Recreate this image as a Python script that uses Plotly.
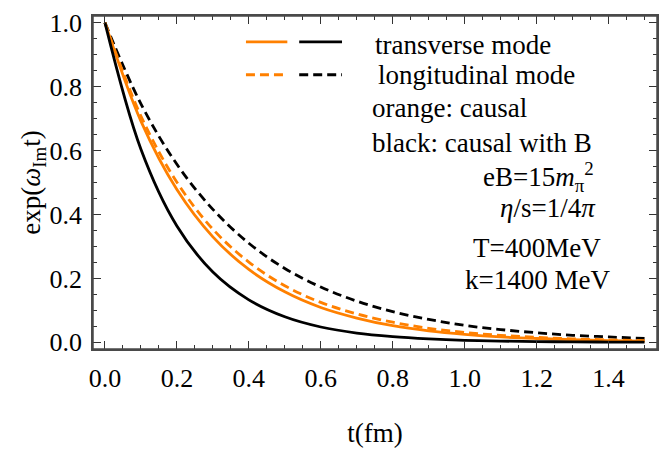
import plotly.graph_objects as go

# ---- data ----
t_fm = [0.0, 0.1, 0.2, 0.3, 0.4, 0.5, 0.6, 0.7, 0.8, 0.9, 1.0, 1.1, 1.2, 1.3, 1.4, 1.5]

orange_transverse = [1.000, 0.692, 0.478, 0.330, 0.228, 0.158, 0.109, 0.076, 0.052, 0.036,
                     0.025, 0.017, 0.0120, 0.0083, 0.0057, 0.0040]
orange_longitudinal = [1.000, 0.708, 0.501, 0.354, 0.251, 0.177, 0.125, 0.089, 0.063, 0.044,
                       0.031, 0.022, 0.0157, 0.0111, 0.0078, 0.0055]
black_transverse = [1.000, 0.604, 0.364, 0.220, 0.133, 0.080, 0.048, 0.029, 0.018, 0.011,
                    0.0064, 0.0039, 0.0023, 0.0014, 0.0009, 0.0005]
black_longitudinal = [1.000, 0.746, 0.557, 0.416, 0.310, 0.231, 0.173, 0.129, 0.096, 0.072,
                      0.053, 0.040, 0.030, 0.022, 0.017, 0.012]

x_ticks = [0.0, 0.2, 0.4, 0.6, 0.8, 1.0, 1.2, 1.4]
x_ticklabels = ["0.0", "0.2", "0.4", "0.6", "0.8", "1.0", "1.2", "1.4"]
y_ticks = [0.0, 0.2, 0.4, 0.6, 0.8, 1.0]
y_ticklabels = ["0.0", "0.2", "0.4", "0.6", "0.8", "1.0"]

ORANGE = "rgb(255,128,0)"
BLACK = "black"
DASH = "9px,5px"
FONT = "Liberation Serif"
LW = 2.8
X_RANGE = [-0.0332, 1.5346]
Y_RANGE = [-0.0208, 1.0208]

fig = go.Figure()

series = [
    (black_longitudinal, BLACK, DASH),
    (orange_longitudinal, ORANGE, DASH),
    (orange_transverse, ORANGE, "solid"),
    (black_transverse, BLACK, "solid"),
]
for ys, col, dash in series:
    fig.add_trace(go.Scatter(
        x=t_fm, y=ys, mode="lines",
        line=dict(color=col, width=LW, dash=dash, shape="spline", smoothing=1.0),
        showlegend=False, hoverinfo="skip"))

FRAME = "#4a4a4a"
TICKC = "#333333"

# legend swatches
legend_rows = [(0.940, "solid"), (0.837, DASH)]
for yv, dash in legend_rows:
    fig.add_shape(type="line", xref="x", yref="y", x0=0.392, x1=0.507, y0=yv, y1=yv,
                  line=dict(color=ORANGE, width=LW, dash=dash))
    fig.add_shape(type="line", xref="x", yref="y", x0=0.540, x1=0.659, y0=yv, y1=yv,
                  line=dict(color=BLACK, width=LW, dash=dash))

txt_font = dict(family=FONT, size=27, color="black")
left_texts = [
    (0.745, 0.929, "transverse mode"),
    (0.753, 0.836, "longitudinal mode"),
    (0.736, 0.732, "orange: causal"),
    (0.736, 0.625, "black: causal with B"),
]
for xv, yv, s in left_texts:
    fig.add_annotation(x=xv, y=yv, xref="x", yref="y", text=s, showarrow=False,
                       xanchor="left", yanchor="middle", font=txt_font)

center_texts = [
    (1.205, 0.518, "eB=15<i>m</i><sub>π</sub><sup>2</sup>"),
    (1.232, 0.420, "<i>η</i>/s=1/4<i>π</i>"),
    (1.202, 0.295, "T=400MeV"),
    (1.202, 0.196, "k=1400 MeV"),
]
for xv, yv, s in center_texts:
    fig.add_annotation(x=xv, y=yv, xref="x", yref="y", text=s, showarrow=False,
                       xanchor="center", yanchor="middle", font=txt_font)

axis_common = dict(
    showline=True, linecolor=FRAME, linewidth=1.5, mirror="allticks",
    ticks="inside", ticklen=8, tickwidth=1.2, tickcolor=TICKC,
    showgrid=False, zeroline=False,
    tickfont=dict(family=FONT, size=26, color="black"),
    title_font=dict(family=FONT, size=27, color="black"),
)
minor_common = dict(dtick=0.05, tick0=0, ticklen=4.5, tickwidth=1, tickcolor=TICKC,
                    ticks="inside", showgrid=False)

fig.update_layout(
    width=668, height=452,
    margin=dict(l=93, r=9, t=14, b=88),
    paper_bgcolor="white", plot_bgcolor="white",
    font=dict(family=FONT, size=26, color="black"),
    xaxis=dict(range=X_RANGE, tickvals=x_ticks, ticktext=x_ticklabels,
               ticklabelstandoff=5,
               minor=minor_common, title_text="t(fm)", title_standoff=31, **axis_common),
    yaxis=dict(range=Y_RANGE, tickvals=y_ticks, ticktext=y_ticklabels,
               ticklabelstandoff=4,
               minor=minor_common, title_text="exp(<i>ω</i><sub>Im</sub>t)",
               title_standoff=1, **axis_common),
)

# plot frame drawn on top of everything
fig.add_shape(type="rect", xref="x domain", yref="y domain", x0=0, x1=1, y0=0, y1=1,
              line=dict(color=FRAME, width=1.5), layer="above")

fig.write_html("out.html", config={"displayModeBar": False},
               post_script="document.body.style.margin='0';document.body.style.padding='0';")
